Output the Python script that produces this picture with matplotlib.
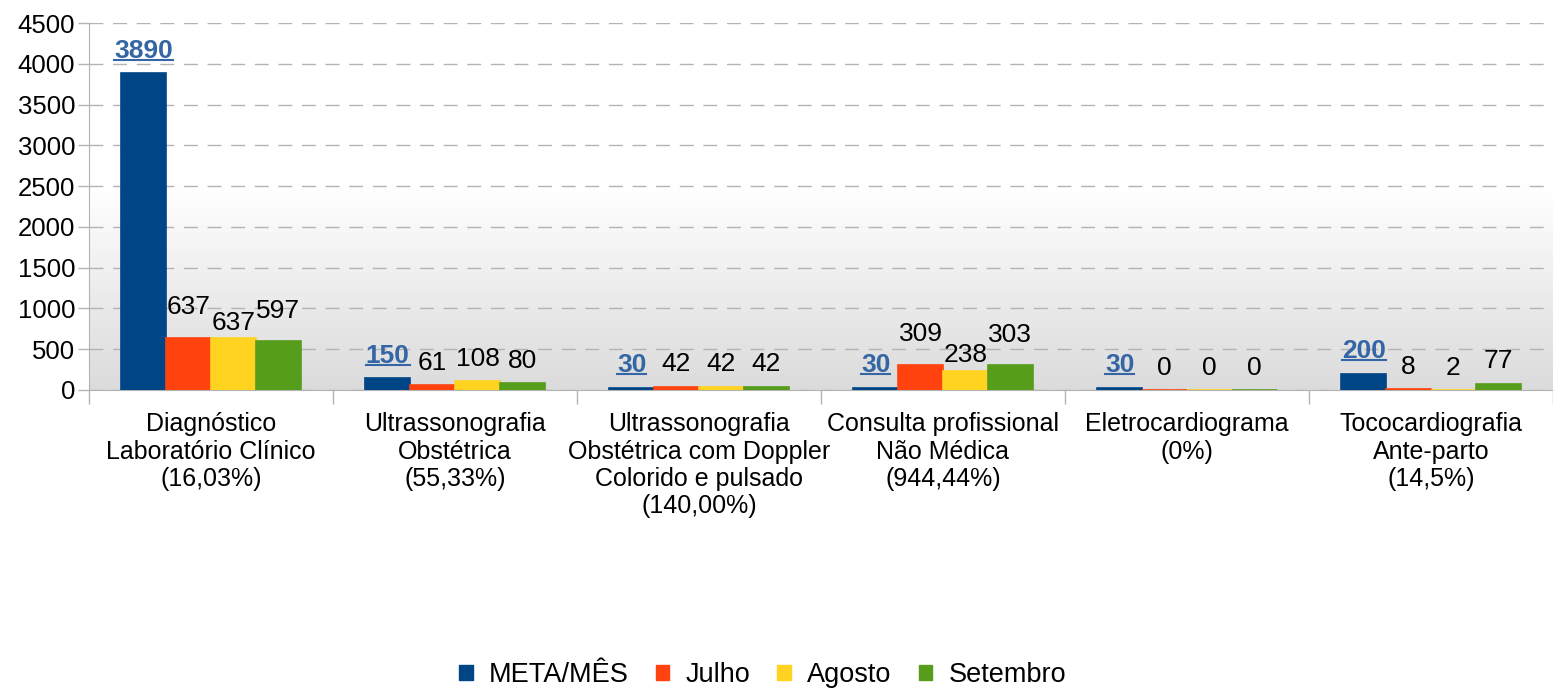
import numpy as np
import matplotlib
matplotlib.use("Agg")
import matplotlib.pyplot as plt
from matplotlib.patches import Patch

plt.rcParams['font.family'] = ['Liberation Sans', 'DejaVu Sans']

# data
categories = [
    "Diagnóstico\nLaboratório Clínico\n(16,03%)",
    "Ultrassonografia\nObstétrica\n(55,33%)",
    "Ultrassonografia\nObstétrica com Doppler\nColorido e pulsado\n(140,00%)",
    "Consulta profissional\nNão Médica\n(944,44%)",
    "Eletrocardiograma\n(0%)",
    "Tococardiografia\nAnte-parto\n(14,5%)",
]
series_names = ["META/MÊS", "Julho", "Agosto", "Setembro"]
meta = [3890, 150, 30, 30, 30, 200]
julho = [637, 61, 42, 309, 0, 8]
agosto = [637, 108, 42, 238, 0, 2]
setembro = [597, 80, 42, 303, 0, 77]

colors = ["#004586", "#ff420e", "#ffd320", "#579d1c"]
yticks = [0, 500, 1000, 1500, 2000, 2500, 3000, 3500, 4000, 4500]

fig = plt.figure(figsize=(15.53, 6.89), dpi=100)
ax = fig.add_axes([0.0573, 0.434, 0.9427, 0.5326])

# gradient background: white above 2500, fading to grey at the bottom
frac = np.linspace(0, 1, 256)
g = np.clip(frac / (2500 / 4500), 0, 1)
shade = 0.86 + (1.0 - 0.86) * g
img = np.dstack([shade, shade, shade]).reshape(256, 1, 3)
ax.imshow(img, extent=[0, 1, 0, 1], transform=ax.transAxes, aspect='auto',
          origin='lower', zorder=0, interpolation='bicubic')
ax.set_xlim(-0.5, len(categories) - 0.5)
ax.set_ylim(0, 4500)

x = np.arange(len(categories))
w = 0.184
all_series = [meta, julho, agosto, setembro]
meta_labels = []
for i, (vals, c) in enumerate(zip(all_series, colors)):
    xs = x + (i - 1.5) * w
    ax.bar(xs, vals, width=w, color=c, edgecolor=c, linewidth=1.2, zorder=3,
           label=series_names[i])
    for j, (xi, v) in enumerate(zip(xs, vals)):
        off = 16
        if i == 0:
            t = ax.annotate(str(v), (xi, v), xytext=(0, off), textcoords='offset points',
                            ha='center', va='center', fontsize=19, color='#3465a4',
                            fontweight='bold', zorder=5)
            meta_labels.append(t)
        else:
            # crowded groups: labels get staggered like in the original
            if min(julho[j], agosto[j], setembro[j]) >= 100:
                off = 11 if i == 2 else 22
            ax.annotate(str(v), (xi, v), xytext=(0, off), textcoords='offset points',
                        ha='center', va='center', fontsize=19, color='black', zorder=5)

ax.set_yticks(yticks)
ax.tick_params(axis='y', labelsize=18.5, length=8, color='#b3b3b3', width=1, pad=2)
ax.yaxis.grid(True, linestyle=(0, (10, 7)), color='#b3b3b3', lw=1, zorder=1)
ax.set_axisbelow(True)

# category labels centred, ticks at the group boundaries
ax.set_xticks(np.arange(-0.5, len(categories), 1.0))
ax.set_xticklabels([])
ax.tick_params(axis='x', length=10, color='#b3b3b3', width=1)
ax.set_xticks(x, minor=True)
ax.set_xticklabels(categories, minor=True, fontsize=18, linespacing=1.18)
ax.tick_params(axis='x', which='minor', length=0, pad=16)

for s in ['top', 'right']:
    ax.spines[s].set_visible(False)
ax.spines['left'].set_color('#b3b3b3')
ax.spines['bottom'].set_color('#b3b3b3')
ax.spines['bottom'].set_zorder(2)

handles = [Patch(color=c) for c in colors]
fig.legend(handles, series_names, loc='center', bbox_to_anchor=(0.491, 0.02),
           ncol=4, frameon=False, fontsize=19.5, handlelength=0.5, handleheight=0.5,
           handletextpad=0.6, columnspacing=1.0)

# underline META labels
fig.canvas.draw()
inv = fig.transFigure.inverted()
for t in meta_labels:
    bb = t.get_window_extent()
    (x0, y0), (x1, y1) = inv.transform([[bb.x0, bb.y0 + 3], [bb.x1, bb.y1]])
    fig.add_artist(plt.Line2D([x0, x1], [y0, y0], transform=fig.transFigure,
                              color='#3465a4', lw=1.5, zorder=6))

fig.savefig("out.png", dpi=100)
